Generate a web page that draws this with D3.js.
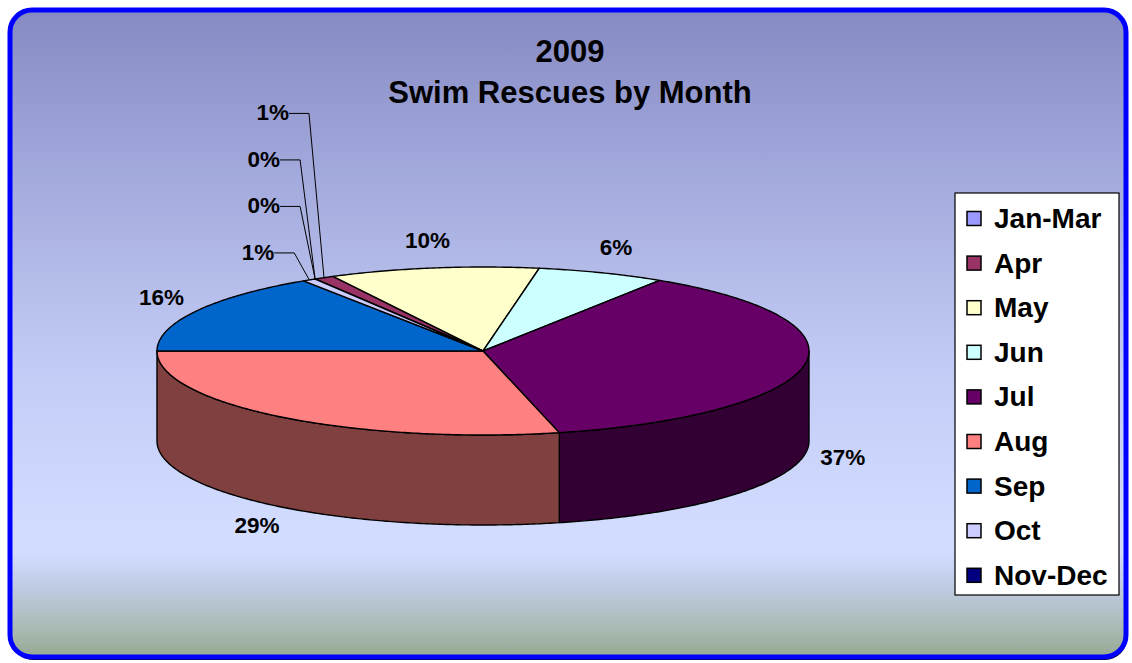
<!DOCTYPE html>
<meta charset="utf-8">
<style>
body { margin: 0; background: #fff; }
text { font-family: "Liberation Sans", Arial, sans-serif; font-weight: bold; fill: #000; }
</style>
<body>
<div id="chart"></div>
<script src="https://cdn.jsdelivr.net/npm/d3@7/dist/d3.min.js"></script>
<script>
// data
var months = ["Jan-Mar", "Apr", "May", "Jun", "Jul", "Aug", "Sep", "Oct", "Nov-Dec"];
var rescues = [0, 3, 31, 19, 111, 86, 47, 2, 0];
var sliceColors = ["#9999FF", "#993366", "#FFFFCC", "#CCFFFF", "#660066", "#FF8080", "#0066CC", "#CCCCFF", "#000080"];
var titleLines = ["2009", "Swim Rescues by Month"];
var firstSliceAngle = 329;

var width = 1132, height = 663;
var cx = 483, cy = 351, rx = 326, ry = 84, depth = 90;

var svg = d3.select("#chart").append("svg")
    .attr("width", width)
    .attr("height", height);

// background gradient
var grad = svg.append("defs").append("linearGradient")
    .attr("id", "bg")
    .attr("x1", 0).attr("y1", 0).attr("x2", 0).attr("y2", 1);
[[0, "#868AC3"], [0.3, "#A8AFE0"], [0.55, "#C2CBF5"], [0.8, "#D2DCFF"], [0.84, "#D2DCFF"],
 [0.88, "#C3CEEA"], [0.94, "#AEBFC0"], [1, "#96AA92"]].forEach(function(s) {
  grad.append("stop").attr("offset", s[0]).attr("stop-color", s[1]);
});

svg.append("rect")
    .attr("x", 11).attr("y", 13).attr("width", 1116).attr("height", 647)
    .attr("rx", 22).attr("fill", "#000");
svg.append("rect")
    .attr("x", 10).attr("y", 10).attr("width", 1116).attr("height", 647)
    .attr("rx", 22)
    .attr("fill", "url(#bg)")
    .attr("stroke", "#0000FF")
    .attr("stroke-width", 5);

// title
svg.selectAll(".title")
    .data(titleLines)
  .enter().append("text")
    .attr("class", "title")
    .attr("x", 570)
    .attr("y", function(d, i) { return 62 + i * 41; })
    .attr("text-anchor", "middle")
    .style("font-size", "31px")
    .text(function(d) { return d; });

// 3d pie
var total = d3.sum(rescues);
var fmt = d3.format(".0%");
var a0 = firstSliceAngle * Math.PI / 180;
var pie = d3.pie().sort(null).startAngle(a0).endAngle(a0 + 2 * Math.PI);
var arcs = pie(rescues);

function pt(a, dy) {
  return [cx + rx * Math.sin(a), cy - ry * Math.cos(a) + (dy || 0)];
}
function arcPts(s, e, dy) {
  var n = Math.max(2, Math.ceil(Math.abs(e - s) / 0.01));
  return d3.range(n + 1).map(function(i) { return pt(s + (e - s) * i / n, dy); });
}
var line = d3.line();

function shade(c) {
  var r = d3.rgb(c);
  return d3.rgb(r.r * 0.5, r.g * 0.5, r.b * 0.5).toString();
}

var pieG = svg.append("g");

// walls (front half only)
arcs.forEach(function(d, i) {
  for (var k = 0; k < 3; k++) {
    var lo = Math.PI / 2 + 2 * Math.PI * k, hi = 3 * Math.PI / 2 + 2 * Math.PI * k;
    var s = Math.max(d.startAngle, lo), e = Math.min(d.endAngle, hi);
    if (e > s) {
      var pts = arcPts(s, e, 0).concat(arcPts(e, s, depth));
      pieG.append("path")
          .attr("d", line(pts) + "Z")
          .attr("fill", shade(sliceColors[i]))
          .attr("stroke", "#000")
          .attr("stroke-width", 1.4)
          .attr("stroke-linejoin", "round");
    }
  }
});

// top faces
arcs.forEach(function(d, i) {
  if (d.value === 0) return;
  var pts = [[cx, cy]].concat(arcPts(d.startAngle, d.endAngle, 0));
  pieG.append("path")
      .attr("d", line(pts) + "Z")
      .attr("fill", sliceColors[i])
      .attr("stroke", "#000")
      .attr("stroke-width", 1.4)
      .attr("stroke-linejoin", "round");
});

// labels
var big = arcs.filter(function(d) { return d.value / total >= 0.02; });
var small = arcs.filter(function(d) { return d.value / total < 0.02; });

big.forEach(function(d) {
  var m = (d.startAngle + d.endAngle) / 2;
  var x = cx + 365 * Math.sin(m);
  var y = cy - 110 * Math.cos(m) + (Math.cos(m) < 0 ? depth : 0);
  svg.append("text")
      .attr("x", x)
      .attr("y", y + 6)
      .attr("text-anchor", "middle")
      .style("font-size", "22.5px")
      .text(fmt(d.value / total));
});

// small slices: stacked labels with leader lines, ordered by anchor x
small.forEach(function(d) { d.anchor = pt((d.startAngle + d.endAngle) / 2, 0); });
small.sort(function(a, b) {
  var dx = Math.round((a.anchor[0] - b.anchor[0]) * 10);
  return dx !== 0 ? dx : b.index - a.index;
});
var baseY = small[0].anchor[1] - 20;
small.forEach(function(d, j) {
  var p = d.anchor;
  var ty = baseY - j * 46.5;
  var elbow = p[0] - 15;
  svg.append("path")
      .attr("d", line([[elbow - 20, ty - 7], [elbow, ty - 7], p]))
      .attr("fill", "none")
      .attr("stroke", "#000")
      .attr("stroke-width", 1);
  svg.append("text")
      .attr("x", elbow - 20)
      .attr("y", ty)
      .attr("text-anchor", "end")
      .style("font-size", "22.5px")
      .text(fmt(d.value / total));
});

// legend
var legend = svg.append("g");
legend.append("rect")
    .attr("x", 955).attr("y", 193).attr("width", 164).attr("height", 402)
    .attr("fill", "#fff").attr("stroke", "#000").attr("stroke-width", 1.2);

var item = legend.selectAll(".item")
    .data(months)
  .enter().append("g")
    .attr("transform", function(d, i) { return "translate(967," + (218.5 + i * 44.6) + ")"; });
item.append("rect")
    .attr("x", 0).attr("y", -7).attr("width", 14).attr("height", 14)
    .attr("fill", function(d, i) { return sliceColors[i]; })
    .attr("stroke", "#000").attr("stroke-width", 1.5);
item.append("text")
    .attr("x", 27).attr("y", 9.5)
    .style("font-size", "28px")
    .text(function(d) { return d; });
</script>
</body>
